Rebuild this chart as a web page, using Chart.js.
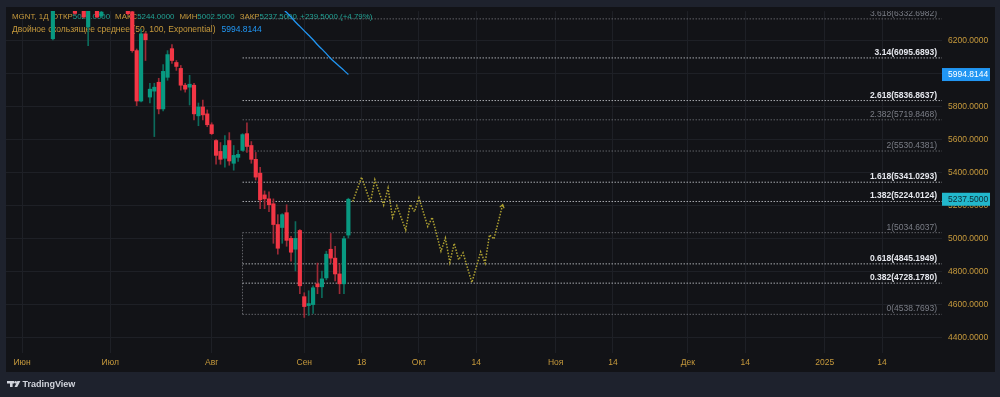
<!DOCTYPE html>
<html>
<head>
<meta charset="utf-8">
<script src="https://cdn.jsdelivr.net/npm/chart.js@4.4.1/dist/chart.umd.min.js"></script>
<style>
  html, body { margin: 0; padding: 0; background: #1e222d; }
  canvas { display: block; }
</style>
</head>
<body>
<canvas id="chart" width="1000" height="397"></canvas>
<script>
// daily bars, index 0 = 3 Jun 2024 (null = bar above the visible range)
const openP = [
  null, null, null, null, null, null, null, 6212, null, null,
  null, null, 6440, null, 6420, 6284, null, 6400, 6350, null,
  null, null, null, null, 6400, 6376, 6140, 5834, 6242, 5858,
  5894, 5948, 5786, 5978, 6152, 6068, 6032, 5930, 5918, 5930,
  5744, 5798, 5756, 5690, 5594, 5528, 5486, 5594, 5456, 5492,
  5534, 5636, 5564, 5480, 5396, 5264, 5240, 5210, 5084, 5066,
  5156, 5000, 4934, 5048, 4646, 4592, 4598, 4724, 4706, 4760,
  4934, 4880, 4784, 4724, 5020
];
const highP = [
  null, null, null, null, null, null, null, 6480, null, null,
  null, null, 6460, null, 6440, 6420, null, 6420, 6390, null,
  null, null, null, null, 6420, 6390, 6150, 6270, 6250, 5942,
  5942, 5972, 6056, 6140, 6176, 6080, 6050, 5942, 5990, 5942,
  5822, 5840, 5780, 5702, 5600, 5582, 5624, 5642, 5564, 5534,
  5636, 5702, 5588, 5522, 5432, 5288, 5282, 5240, 5144, 5150,
  5204, 5012, 5102, 5054, 4670, 4682, 4712, 4850, 4802, 4922,
  5030, 4952, 4844, 5012, 5244
];
const lowP = [
  null, null, null, null, null, null, null, 6205, null, null,
  null, null, 6360, null, 6338, 6170, null, 6338, 6340, null,
  null, null, null, null, 6358, 6130, 5806, 5828, 6080, 5822,
  5618, 5756, 5774, 5960, 6062, 6020, 5900, 5888, 5810, 5720,
  5684, 5720, 5678, 5630, 5450, 5450, 5432, 5444, 5414, 5468,
  5530, 5522, 5456, 5354, 5180, 5180, 5162, 4970, 4904, 4970,
  4952, 4862, 4802, 4664, 4520, 4532, 4544, 4664, 4640, 4748,
  4850, 4742, 4664, 4664, 5002.5
];
const closeP = [
  null, null, null, null, null, null, null, 6450, null, null,
  null, null, 6366, null, 6344, 6400, null, 6344, 6374, null,
  null, null, null, null, 6364, 6140, 5834, 6242, 6206, 5906,
  5918, 5786, 6014, 6116, 6080, 6044, 5930, 5906, 5936, 5756,
  5798, 5750, 5690, 5636, 5504, 5480, 5564, 5470, 5504, 5510,
  5630, 5558, 5480, 5372, 5234, 5240, 5204, 5084, 4940, 5144,
  4988, 4916, 5000, 4712, 4586, 4604, 4700, 4706, 4754, 4904,
  4880, 4784, 4724, 4998, 5237.5
];

// double EMA (50, 100)
const demaIdx = [58, 59, 60, 61, 62, 63, 64, 65, 66, 67, 68, 69, 70, 71, 72, 73, 74];
const demaVal = [6425, 6398, 6371, 6344, 6314, 6287, 6260, 6233, 6206, 6176, 6149, 6122, 6092, 6068, 6044, 6020, 5994.8144];

// projected path
const projIdx = [75, 77, 79, 80, 82, 83, 84, 85, 87, 88, 89, 90, 92, 93, 95, 96, 97, 98, 99, 100, 102, 104, 105, 106, 107, 109];
const projVal = [5224, 5372, 5218, 5356, 5202, 5306, 5126, 5198, 5050, 5206, 5162, 5246, 5072, 5128, 4922, 5002, 4854, 4970, 4870, 4912, 4732, 4918, 4850, 5022, 4996, 5206];

// fibonacci extension
const fibRatio = [3.618, 3.14, 2.618, 2.382, 2, 1.618, 1.382, 1, 0.618, 0.382, 0];
const fibPrice = [6332.6982, 6095.6893, 5836.8637, 5719.8468, 5530.4381, 5341.0293, 5224.0124, 5034.6037, 4845.1949, 4728.1780, 4538.7693];
const fibStartIdx = 50;

// axes
const tickIdx = [0, 20, 43, 64, 77, 90, 103, 121, 134, 151, 164, 182, 195];
const tickText = ['Июн', 'Июл', 'Авг', 'Сен', '18', 'Окт', '14', 'Ноя', '14', 'Дек', '14', '2025', '14'];
const priceTicks = [4400, 4600, 4800, 5000, 5200, 5400, 5600, 5800, 6000, 6200];

const X_MIN = -3.63, X_MAX = 208.6, Y_MIN = 4304, Y_MAX = 6380;

const GREEN = '#089981', RED = '#f23645';
const GREEN_W = '#0c6b5c', RED_W = '#9c2a36';
const GOLD = '#c79a3c', GRID = '#1e2026', PANEL = '#121317';
const FONT = "'Liberation Sans', Arial, sans-serif";
const mainFib = [3.14, 2.618, 1.618, 1.382, 0.618, 0.382];

const bodies = [], wicks = [], bodyCol = [], wickCol = [];
for (let i = 0; i < openP.length; i++) {
  if (openP[i] == null) continue;
  const up = closeP[i] >= openP[i];
  bodies.push({ x: i, y: [openP[i], closeP[i]] });
  wicks.push({ x: i, y: [lowP[i], highP[i]] });
  bodyCol.push(up ? GREEN : RED);
  wickCol.push(up ? GREEN_W : RED_W);
}

const datasets = [];
fibPrice.forEach((p, k) => {
  const main = mainFib.includes(fibRatio[k]);
  datasets.push({
    type: 'line',
    data: [{ x: fibStartIdx, y: p }, { x: X_MAX, y: p }],
    borderColor: main ? 'rgba(205,207,212,0.8)' : 'rgba(150,152,158,0.6)',
    borderWidth: 1, borderDash: [1.5, 1.5], pointRadius: 0, order: 6, clip: 0
  });
});
datasets.push({
  type: 'line',
  data: [{ x: fibStartIdx, y: fibPrice[10] }, { x: fibStartIdx, y: fibPrice[7] }],
  borderColor: 'rgba(150,152,158,0.6)', borderWidth: 1, borderDash: [1.5, 1.5],
  pointRadius: 0, order: 6, clip: 0
});
datasets.push({
  type: 'bar', data: wicks, backgroundColor: wickCol,
  barThickness: 1, grouped: false, order: 4, clip: 0
});
datasets.push({
  type: 'bar', data: bodies, backgroundColor: bodyCol,
  barThickness: 3.5, grouped: false, minBarLength: 1, order: 3, clip: 0
});
datasets.push({
  type: 'line', data: demaIdx.map((x, i) => ({ x, y: demaVal[i] })),
  borderColor: '#2196f3', borderWidth: 1.3, pointRadius: 0,
  cubicInterpolationMode: 'monotone', order: 2, clip: 0
});
datasets.push({
  type: 'line', data: projIdx.map((x, i) => ({ x, y: projVal[i] })),
  borderColor: '#b0a232', borderWidth: 1.5, borderDash: [1.5, 1.5],
  pointRadius: 0, order: 1, clip: 0
});

function segs(ctx, x, y, parts) {
  parts.forEach(([t, c, gap]) => {
    ctx.fillStyle = c;
    ctx.fillText(t, x, y);
    x += ctx.measureText(t).width + gap;
  });
}

const decor = {
  id: 'decor',
  beforeDraw(chart) {
    const ctx = chart.ctx;
    ctx.save();
    ctx.fillStyle = '#1e222d';
    ctx.fillRect(0, 0, chart.width, chart.height);
    ctx.fillStyle = PANEL;
    ctx.fillRect(6, 7, 989, 365);
    ctx.restore();
  },
  beforeDatasetsDraw(chart) {
    const ctx = chart.ctx;
    const n = closeP.length - 1;
    const chg = closeP[n] - closeP[n - 1];
    const pct = chg / closeP[n - 1] * 100;
    const TEAL = '#22a395';
    ctx.save();
    ctx.font = '7.9px ' + FONT;
    ctx.textBaseline = 'middle';
    ctx.textAlign = 'left';
    segs(ctx, 12, 17, [
      ['MGNT, 1Д', GOLD, 3.5],
      ['ОТКР', GOLD, 0], [openP[n].toFixed(4), TEAL, 5],
      ['МАКС', GOLD, 0], [highP[n].toFixed(4), TEAL, 5],
      ['МИН', GOLD, 0], [lowP[n].toFixed(4), TEAL, 5],
      ['ЗАКР', GOLD, 0], [closeP[n].toFixed(4), TEAL, 3.5],
      ['+' + chg.toFixed(4) + ' (+' + pct.toFixed(2) + '%)', TEAL, 0]
    ]);
    ctx.font = '8.5px ' + FONT;
    segs(ctx, 12, 29.5, [
      ['Двойное скользящее среднее (50, 100, Exponential)', GOLD, 6],
      [demaVal[demaVal.length - 1].toFixed(4), '#2196f3', 0]
    ]);
    ctx.restore();
  },
  afterDraw(chart) {
    const ctx = chart.ctx;
    const xs = chart.scales.x, ys = chart.scales.y, a = chart.chartArea;
    ctx.save();
    // fib labels
    ctx.beginPath();
    ctx.rect(a.left, a.top, a.right - a.left, a.bottom - a.top);
    ctx.clip();
    ctx.textAlign = 'right';
    ctx.textBaseline = 'alphabetic';
    fibPrice.forEach((p, k) => {
      const main = mainFib.includes(fibRatio[k]);
      ctx.font = (main ? 'bold ' : '') + '8.5px ' + FONT;
      ctx.fillStyle = main ? '#e6e8ee' : '#7b7e87';
      ctx.fillText(fibRatio[k] + '(' + p.toFixed(4) + ')', 937, ys.getPixelForValue(p) - 3);
    });
    // arrow head of projection
    const m = projIdx.length - 1;
    const x1 = xs.getPixelForValue(projIdx[m - 1]), y1 = ys.getPixelForValue(projVal[m - 1]);
    const x2 = xs.getPixelForValue(projIdx[m]), y2 = ys.getPixelForValue(projVal[m]);
    const ang = Math.atan2(y2 - y1, x2 - x1);
    ctx.strokeStyle = '#b0a232';
    ctx.lineWidth = 1.2;
    ctx.beginPath();
    ctx.moveTo(x2 + 4 * Math.cos(ang + Math.PI - 0.6), y2 + 4 * Math.sin(ang + Math.PI - 0.6));
    ctx.lineTo(x2, y2);
    ctx.lineTo(x2 + 4 * Math.cos(ang + Math.PI + 0.6), y2 + 4 * Math.sin(ang + Math.PI + 0.6));
    ctx.stroke();
    ctx.restore();

    // price boxes
    ctx.save();
    ctx.font = '8.5px ' + FONT;
    ctx.textAlign = 'left';
    ctx.textBaseline = 'middle';
    const box = (v, bg, fg) => {
      const y = ys.getPixelForValue(v);
      ctx.fillStyle = bg;
      ctx.fillRect(942, y - 6.5, 48, 13);
      ctx.fillStyle = fg;
      ctx.fillText(v.toFixed(4), 948, y + 0.5);
    };
    box(demaVal[demaVal.length - 1], '#2196f3', '#ffffff');
    box(closeP[closeP.length - 1], '#22b8cc', '#0f2a33');

    // branding
    ctx.fillStyle = '#d1d4dc';
    ctx.fillRect(7, 381, 7, 2.5);
    ctx.fillRect(10, 381, 2.6, 6);
    ctx.beginPath();
    ctx.arc(15.6, 382.3, 1.3, 0, Math.PI * 2);
    ctx.fill();
    ctx.beginPath();
    ctx.moveTo(17.4, 381); ctx.lineTo(20.4, 381); ctx.lineTo(17.2, 387); ctx.lineTo(14.6, 387);
    ctx.closePath();
    ctx.fill();
    ctx.font = '600 9px ' + FONT;
    ctx.fillText('TradingView', 22.5, 384.3);
    ctx.restore();
  }
};

new Chart(document.getElementById('chart'), {
  type: 'bar',
  data: { datasets },
  options: {
    responsive: false,
    animation: false,
    devicePixelRatio: 1,
    events: [],
    layout: { padding: { left: 6, top: 7, right: 5, bottom: 25 } },
    plugins: { legend: { display: false }, tooltip: { enabled: false } },
    scales: {
      x: {
        type: 'linear', min: X_MIN, max: X_MAX, offset: false,
        afterBuildTicks: s => { s.ticks = tickIdx.map(v => ({ value: v })); },
        afterFit: s => { s.height = 19; },
        ticks: {
          autoSkip: false, maxRotation: 0, padding: 5, color: GOLD,
          font: { family: FONT, size: 8.5 },
          callback: v => tickText[tickIdx.indexOf(v)]
        },
        grid: { color: GRID, drawTicks: false, offset: false },
        border: { display: false }
      },
      y: {
        type: 'linear', position: 'right', min: Y_MIN, max: Y_MAX,
        afterBuildTicks: s => { s.ticks = priceTicks.map(v => ({ value: v })); },
        afterFit: s => { s.width = 53; },
        ticks: {
          padding: 6, color: GOLD,
          font: { family: FONT, size: 8.5 },
          callback: v => Number(v).toFixed(4)
        },
        grid: { color: GRID, drawTicks: false },
        border: { display: false }
      }
    }
  },
  plugins: [decor]
});
</script>
</body>
</html>
